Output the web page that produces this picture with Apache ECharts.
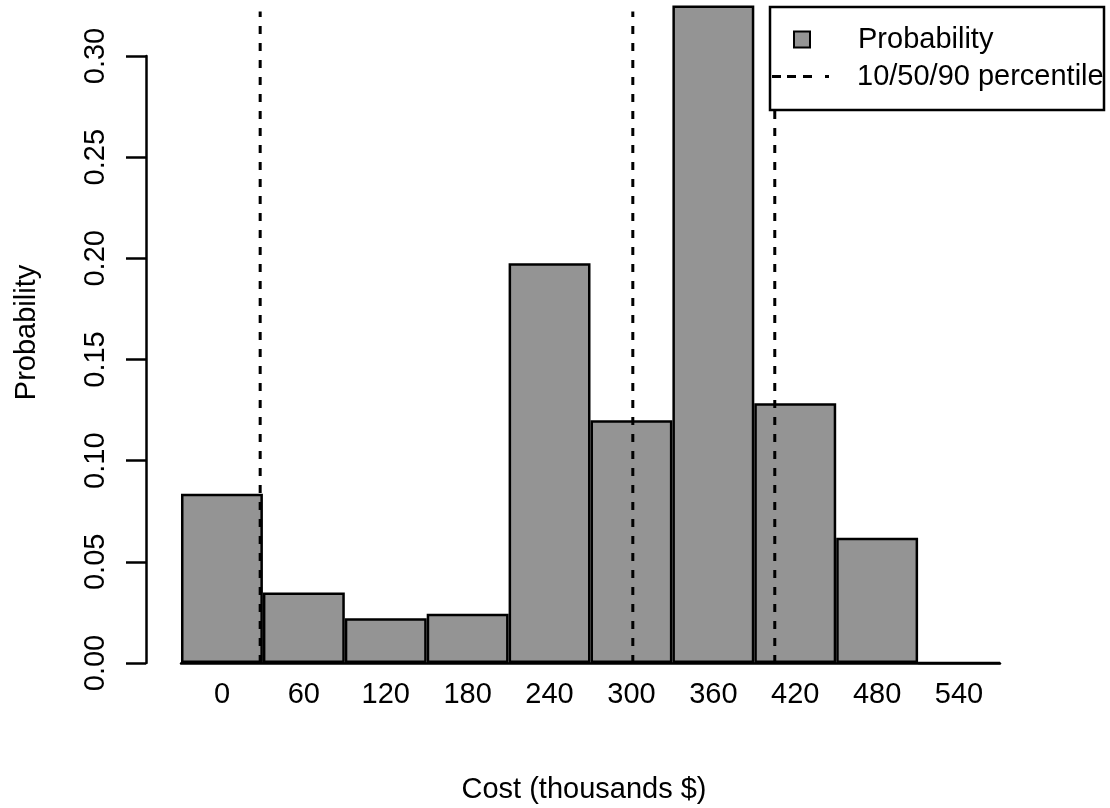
<!DOCTYPE html>
<html>
<head>
<meta charset="utf-8">
<title>Cost distribution</title>
<script src="https://cdn.jsdelivr.net/npm/echarts@6/dist/echarts.min.js"></script>
<style>
  html, body { margin: 0; padding: 0; background: #fff; }
  #chart { width: 1110px; height: 808px; }
</style>
</head>
<body>
<div id="chart"></div>
<script>
// Cost bins (thousands $) and the probability of each bin
const costBins = ['0', '60', '120', '180', '240', '300', '360', '420', '480', '540'];
const probability = [0.0836, 0.0348, 0.0221, 0.0243, 0.1976, 0.120, 0.325, 0.1284, 0.0619, 0];
// 10th, 50th and 90th percentile of cost (thousands $)
const percentiles = [28, 301, 405];
const percentileTop = 0.322;
// y-axis ticks
const yTicks = [0, 0.05, 0.10, 0.15, 0.20, 0.25, 0.30];

const FONT = "'Liberation Sans', Arial, Helvetica, sans-serif";
const FONT_SIZE = 29;
const binStep = 60;

const chart = echarts.init(document.getElementById('chart'), null, { renderer: 'canvas' });

const percentileSeries = percentiles.map(p => ({
  name: '10/50/90 percentile',
  type: 'line',
  xAxisIndex: 1,
  yAxisIndex: 0,
  data: [[p, 0], [p, percentileTop]],
  symbol: 'none',
  clip: false,
  z: 5,
  lineStyle: { color: '#000', width: 3, type: [8, 9] },
  itemStyle: { color: '#000' },
  silent: true
}));

chart.setOption({
  animation: false,
  backgroundColor: '#fff',
  textStyle: { fontFamily: FONT, color: '#000' },
  grid: { left: 181, right: 110, top: 56, bottom: 145, containLabel: false, outerBoundsMode: 'none' },
  xAxis: [
    {
      type: 'category',
      data: costBins,
      boundaryGap: true,
      axisLine: { lineStyle: { color: '#000', width: 2.5 } },
      axisTick: { show: false },
      axisLabel: { color: '#000', fontSize: FONT_SIZE, fontFamily: FONT, margin: 17 },
      name: 'Cost (thousands $)',
      nameLocation: 'middle',
      nameGap: 112,
      nameTextStyle: { color: '#000', fontSize: FONT_SIZE, fontFamily: FONT, padding: [0, 13, 0, 0] }
    },
    {
      // continuous cost scale sharing the bar positions (bin centres at multiples of 60)
      type: 'value',
      min: -binStep / 2,
      max: costBins.length * binStep - binStep / 2,
      show: false
    }
  ],
  yAxis: {
    type: 'value',
    min: yTicks[0],
    max: yTicks[yTicks.length - 1],
    interval: 0.05,
    offset: 35,
    splitLine: { show: false },
    axisLine: { show: true, onZero: false, lineStyle: { color: '#000', width: 2.5 } },
    axisTick: { show: true, length: 20, lineStyle: { color: '#000', width: 2.5 } },
    axisLabel: {
      color: '#000', fontSize: FONT_SIZE, fontFamily: FONT, rotate: 90, margin: 36,
      formatter: v => v.toFixed(2)
    },
    name: 'Probability',
    nameLocation: 'middle',
    nameRotate: 90,
    nameGap: 105,
    nameTextStyle: { color: '#000', fontSize: FONT_SIZE, fontFamily: FONT, padding: [0, 0, 0, 54] }
  },
  legend: [
    {
      data: [{ name: 'Probability', icon: 'rect' }],
      left: 793, top: 25,
      padding: 0,
      itemWidth: 16, itemHeight: 16,
      z: 60,
      textStyle: { color: '#000', fontSize: FONT_SIZE, fontFamily: FONT, padding: [0, 0, 12, 43] },
      selectedMode: false
    },
    {
      data: [{
        name: '10/50/90 percentile',
        icon: 'path://M0,0h9v3h-9z M15,0h9v3h-9z M31,0h9v3h-9z M53,0h4v3h-4z'
      }],
      left: 772, top: 62,
      padding: 0,
      itemWidth: 57, itemHeight: 3,
      itemStyle: { color: '#000', borderWidth: 0 },
      z: 60,
      textStyle: { color: '#000', fontSize: FONT_SIZE, fontFamily: FONT, padding: [0, 0, 10, 23] },
      selectedMode: false
    }
  ],
  graphic: [
    {
      type: 'rect',
      z: 50,
      shape: { x: 770, y: 7, width: 334, height: 103 },
      style: { fill: '#fff', stroke: '#000', lineWidth: 2.5 }
    }
  ],
  series: [
    {
      name: 'Probability',
      type: 'bar',
      data: probability,
      barCategoryGap: '0%',
      clip: false,
      z: 2,
      itemStyle: { color: '#949494', borderColor: '#000', borderWidth: 2.5 },
      silent: true
    },
    ...percentileSeries
  ]
});
</script>
</body>
</html>
